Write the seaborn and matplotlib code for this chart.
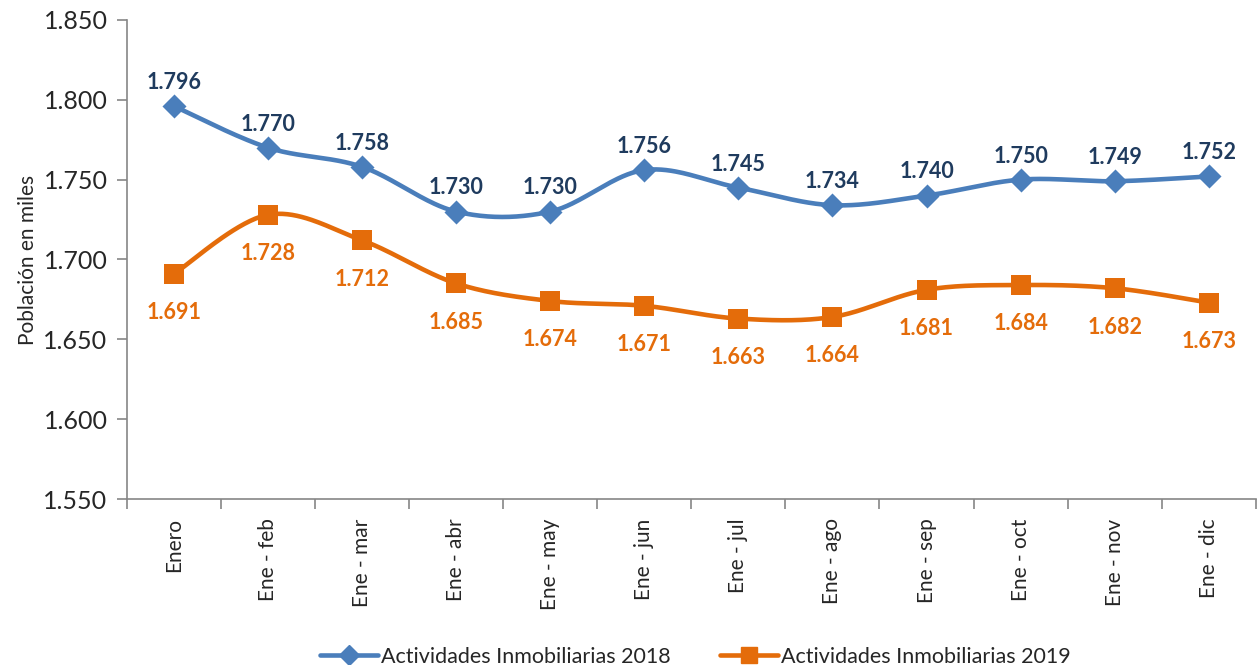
import numpy as np
import pandas as pd
import matplotlib
matplotlib.use("Agg")
import matplotlib.pyplot as plt
from matplotlib.lines import Line2D
from matplotlib.ticker import FuncFormatter, FixedLocator
import seaborn as sns

categories = ["Enero", "Ene - feb", "Ene - mar", "Ene - abr", "Ene - may", "Ene - jun",
              "Ene - jul", "Ene - ago", "Ene - sep", "Ene - oct", "Ene - nov", "Ene - dic"]
serie_2018 = [1796, 1770, 1758, 1730, 1730, 1756, 1745, 1734, 1740, 1750, 1749, 1752]
serie_2019 = [1691, 1728, 1712, 1685, 1674, 1671, 1663, 1664, 1681, 1684, 1682, 1673]
name_2018 = "Actividades Inmobiliarias 2018"
name_2019 = "Actividades Inmobiliarias 2019"
y_ticks = [1550, 1600, 1650, 1700, 1750, 1800, 1850]

sns.set_theme(style="white")
FONT = ["Lato", "DejaVu Sans"]
plt.rcParams["font.family"] = FONT

BLUE = "#4A7EBB"
ORANGE = "#E46C0A"
BLUE_TXT = "#1F3B5E"
ORANGE_TXT = "#E46C0A"
GRAY = "#868686"


def smooth(xs, ys, n=40):
    # Bezier smoothing similar to spreadsheet "smoothed line" rendering
    P = np.column_stack([xs, ys]).astype(float)
    m = len(P)
    out = []
    for i in range(m - 1):
        p0 = P[i - 1] if i > 0 else P[i]
        p1 = P[i]
        p2 = P[i + 1]
        p3 = P[i + 2] if i + 2 < m else P[i + 1]
        c1 = p1 + (p2 - p0) / 6.0
        c2 = p2 - (p3 - p1) / 6.0
        t = np.linspace(0, 1, n)[:, None]
        seg = ((1 - t) ** 3) * p1 + 3 * ((1 - t) ** 2) * t * c1 + 3 * (1 - t) * t ** 2 * c2 + t ** 3 * p2
        out.append(seg if i == 0 else seg[1:])
    return np.vstack(out)


fig = plt.figure(figsize=(12.57, 6.65), dpi=100)
ax = fig.add_axes([0.101, 0.2496, 0.898, 0.7204])

x = np.arange(len(categories))
for vals, color, marker, ms in [(serie_2018, BLUE, "D", 150), (serie_2019, ORANGE, "s", 200)]:
    curve = smooth(x, vals)
    cdf = pd.DataFrame({"x": curve[:, 0], "y": curve[:, 1]})
    sns.lineplot(data=cdf, x="x", y="y", sort=False, color=color, linewidth=3.3, ax=ax,
                 legend=False, estimator=None)
    pdf = pd.DataFrame({"x": x, "y": vals})
    sns.scatterplot(data=pdf, x="x", y="y", marker=marker, s=ms, color=color,
                    edgecolor=color, linewidth=0, ax=ax, legend=False, zorder=5)


def fmt(v):
    return f"{v/1000:.3f}"


for i, v in enumerate(serie_2018):
    ax.annotate(fmt(v), (i, v), xytext=(0, 17), textcoords="offset points",
                ha="center", va="center", fontsize=15.5, fontweight="bold", color=BLUE_TXT)
for i, v in enumerate(serie_2019):
    ax.annotate(fmt(v), (i, v), xytext=(0, -28), textcoords="offset points",
                ha="center", va="center", fontsize=15.5, fontweight="bold", color=ORANGE_TXT)

ax.set_xlim(-0.5, len(categories) - 0.5)
ax.set_ylim(1550, 1850)
ax.set_yticks(y_ticks)
ax.yaxis.set_major_formatter(FuncFormatter(lambda v, p: fmt(v)))
ax.set_xticks(x)
ax.set_xticklabels(categories, rotation=90, fontsize=15)
ax.xaxis.set_minor_locator(FixedLocator(np.arange(-0.5, len(categories), 1.0)))
ax.tick_params(axis="x", which="major", length=0, pad=14)
ax.tick_params(axis="x", which="minor", length=7, width=1.2, color=GRAY, direction="out", bottom=True)
ax.tick_params(axis="y", length=7, width=1.2, color=GRAY, direction="out", left=True, labelsize=18, pad=7)
ax.set_xlabel("")
ax.set_ylabel("Población en miles", fontsize=15, labelpad=4)
for s in ["top", "right"]:
    ax.spines[s].set_visible(False)
for s in ["left", "bottom"]:
    ax.spines[s].set_color(GRAY)
    ax.spines[s].set_linewidth(1.2)
ax.grid(False)

handles = [Line2D([0], [0], color=BLUE, lw=3.3, marker="D", ms=10),
           Line2D([0], [0], color=ORANGE, lw=3.3, marker="s", ms=11)]
fig.legend(handles, [name_2018, name_2019], loc="lower center", bbox_to_anchor=(0.553, -0.032),
           ncol=2, frameon=False, fontsize=15.5, handlelength=2.7, handletextpad=0.12, columnspacing=2.3)

fig.savefig("out.png", dpi=100)
